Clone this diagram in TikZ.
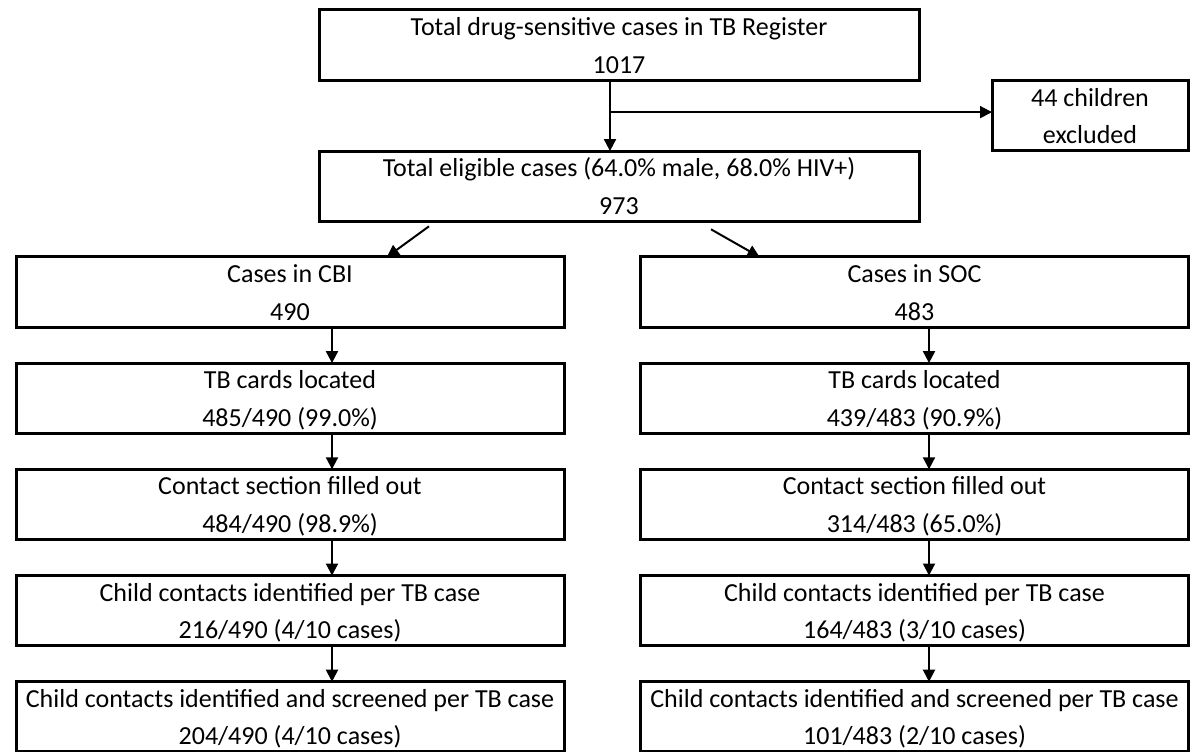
\documentclass[tikz,border=0pt]{standalone}
\usepackage{fontspec}
\setmainfont{Carlito}
\usetikzlibrary{positioning,arrows.meta}
\newcommand{\twoline}[2]{\rule{0pt}{12.8pt}#1\\#2\rule[-3.5pt]{0pt}{0pt}}

\begin{document}
\begin{tikzpicture}[
      x=0.5pt, y=-0.5pt,
      node distance=18pt,
      box/.style={draw=black,line width=1.5pt,fill=white,align=center,minimum width=274pt,minimum height=35pt,inner sep=0pt,outer sep=0pt,font=\fontsize{13}{18.8}\selectfont},
      topbox/.style={box,minimum width=300pt},
      side/.style={box,minimum width=98pt},
      arr/.style={-{Triangle[length=6pt,width=6pt]},line width=1pt,draw=black}
    ]
    \useasboundingbox (0,0) rectangle (1194,751);

    \node[topbox] (total) at (619,45) {\twoline{Total drug-sensitive cases in TB Register}{1017}};
    \node[topbox, below=35.5pt of total] (elig) {\twoline{Total eligible cases (64.0\% male, 68.0\% HIV+)}{973}};
    \node[side] (excl) at (1090,115.5) {\twoline{44 children}{excluded}};

    % CBI arm
    \node[box] (cbi) at (290,292) {\twoline{Cases in CBI}{490}};
    \node[box, below=of cbi] (cardsl) {\twoline{TB cards located}{485/490 (99.0\%)}};
    \node[box, below=of cardsl] (contl) {\twoline{Contact section filled out}{484/490 (98.9\%)}};
    \node[box, below=of contl] (childl) {\twoline{Child contacts identified per TB case}{216/490 (4/10 cases)}};
    \node[box, below=of childl] (screenl) {\twoline{Child contacts identified and screened per TB case}{204/490 (4/10 cases)}};

    % SOC arm
    \node[box] (soc) at (914.5,292) {\twoline{Cases in SOC}{483}};
    \node[box, below=of soc] (cardsr) {\twoline{TB cards located}{439/483 (90.9\%)}};
    \node[box, below=of cardsr] (contr) {\twoline{Contact section filled out}{314/483 (65.0\%)}};
    \node[box, below=of contr] (childr) {\twoline{Child contacts identified per TB case}{164/483 (3/10 cases)}};
    \node[box, below=of childr] (screenr) {\twoline{Child contacts identified and screened per TB case}{101/483 (2/10 cases)}};

    \coordinate (split) at ([xshift=-4.5pt,yshift=-16pt]total.south);
    \draw[arr] ([xshift=-4.5pt]total.south) -- ([xshift=-4.5pt]elig.north);
    \draw[arr] (split) -- (split -| excl.west);
    \draw[arr] ([xshift=-95pt,yshift=-2.5pt]elig.south) -- ([xshift=48.5pt]cbi.north);
    \draw[arr] ([xshift=46pt,yshift=-4pt]elig.south) -- ([xshift=-77.5pt]soc.north);

    \draw[arr] ([xshift=21pt]cbi.south) -- ([xshift=21pt]cardsl.north);
    \draw[arr] ([xshift=21pt]cardsl.south) -- ([xshift=21pt]contl.north);
    \draw[arr] ([xshift=21pt]contl.south) -- ([xshift=21pt]childl.north);
    \draw[arr] ([xshift=21pt]childl.south) -- ([xshift=21pt]screenl.north);

    \draw[arr] ([xshift=7.25pt]soc.south) -- ([xshift=7.25pt]cardsr.north);
    \draw[arr] ([xshift=7.25pt]cardsr.south) -- ([xshift=7.25pt]contr.north);
    \draw[arr] ([xshift=7.25pt]contr.south) -- ([xshift=7.25pt]childr.north);
    \draw[arr] ([xshift=7.25pt]childr.south) -- ([xshift=7.25pt]screenr.north);
  \end{tikzpicture}
\end{document}
